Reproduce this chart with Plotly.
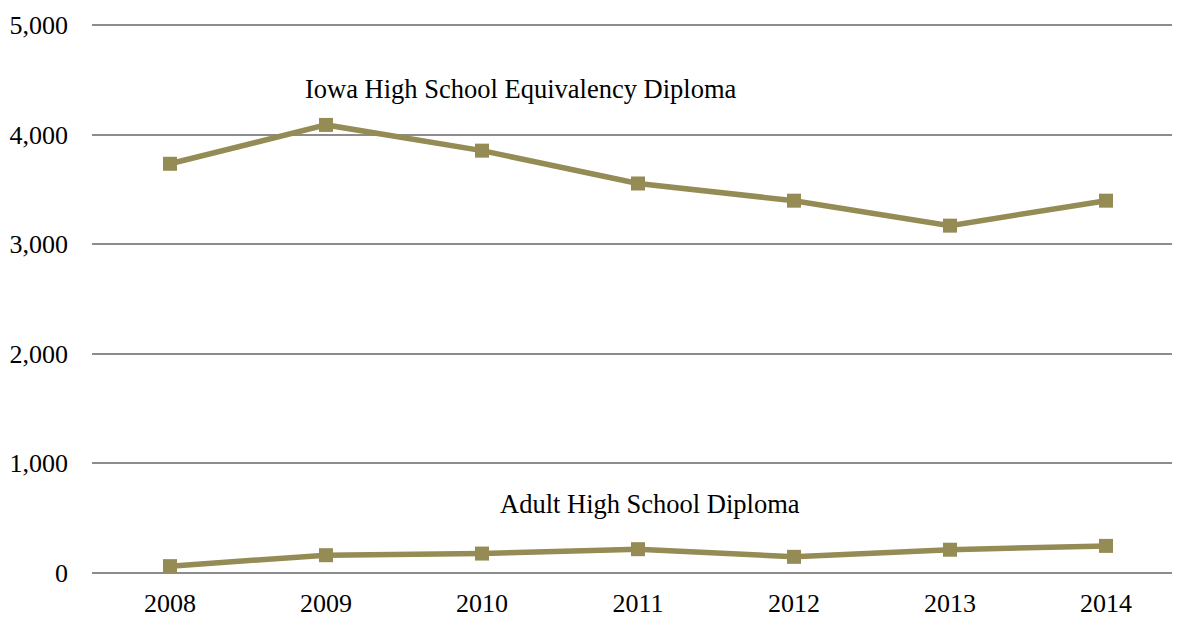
import plotly.graph_objects as go

years = ["2008", "2009", "2010", "2011", "2012", "2013", "2014"]
equivalency = [3735, 4090, 3855, 3555, 3398, 3170, 3398]
adult = [60, 160, 175, 215, 145, 210, 245]
y_ticks = [0, 1000, 2000, 3000, 4000, 5000]
y_tick_labels = ["0", "1,000", "2,000", "3,000", "4,000", "5,000"]

color = "#958B54"
font = "Liberation Serif, Times New Roman, serif"

fig = go.Figure()
for name, vals in [("Iowa High School Equivalency Diploma", equivalency),
                   ("Adult High School Diploma", adult)]:
    fig.add_trace(go.Scatter(
        x=years, y=vals, mode="lines+markers", name=name,
        line=dict(color=color, width=5.5),
        marker=dict(symbol="square", size=14, color=color),
        showlegend=False,
    ))

fig.add_annotation(x=2.25, y=4414, xref="x", yref="y",
                   text="Iowa High School Equivalency Diploma", showarrow=False,
                   font=dict(family=font, size=26.5, color="#000000"))
fig.add_annotation(x=3.08, y=625, xref="x", yref="y",
                   text="Adult High School Diploma", showarrow=False,
                   font=dict(family=font, size=26.5, color="#000000"))

fig.update_layout(
    width=1176, height=610,
    margin=dict(l=84, r=0, t=14, b=38),
    paper_bgcolor="white", plot_bgcolor="white",
    font=dict(family=font, size=26, color="#000000"),
    xaxis=dict(type="category", range=[-0.5, 6.5], showgrid=False,
               showline=False, zeroline=False, ticks="", ticklabelstandoff=9),
    yaxis=dict(range=[-30, 5030], tickvals=y_ticks, ticktext=y_tick_labels,
               showgrid=True, gridcolor="#8C8C8C", gridwidth=2,
               zeroline=False, showline=False, ticks="", ticklabelstandoff=23),
)

fig.write_html("out.html")
